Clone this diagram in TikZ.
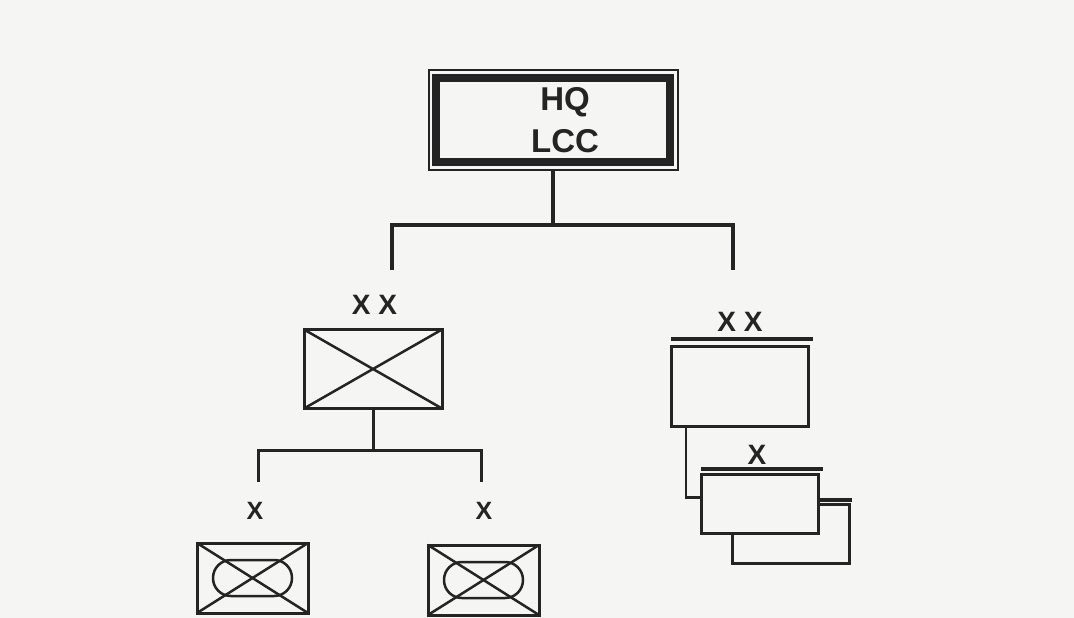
\documentclass[tikz,border=0pt]{standalone}
\usepackage{fontspec}
\setmainfont{Liberation Sans}
\usetikzlibrary{calc}
\definecolor{paper}{RGB}{245,245,243}
\definecolor{ink}{RGB}{36,36,36}

\begin{document}
\begin{tikzpicture}[x=1pt, y=-1pt,
  unit/.style={draw=ink, line width=3pt, fill=paper, inner sep=0pt, outer sep=0pt},
  echelon/.style={ink, font=\fontsize{28}{28}\selectfont\bfseries, inner sep=0pt},
  tree/.style={draw=ink, line width=4pt},
  subtree/.style={draw=ink, line width=3pt},
  navybar/.style={draw=ink, line width=4.5pt}]
\useasboundingbox[fill=paper] (0,0) rectangle (1074,618);

\node[draw=ink, line width=2pt, minimum width=249pt, minimum height=99pt, inner sep=0pt, outer sep=0pt] (hq) at (553,120) {};
\draw[ink, line width=7.5pt] ($(hq.north west)+(7.5,7.5)$) rectangle ($(hq.south east)+(-7.5,-7.5)$);
\node[ink, font=\fontsize{33}{42.5}\selectfont\bfseries, align=center, inner sep=0pt] (hqText) at (565,120) {HQ\\LCC};

\coordinate (dropL) at (392,270);
\coordinate (dropR) at (733,270);
\draw[tree] (hq.south) -- ++(0,55) coordinate (bus) -| (dropL) (bus) -| (dropR);

\node[unit, minimum width=138pt, minimum height=79pt] (div) at (373,369) {};
\draw[ink, line width=2.5pt] (div.north west) -- (div.south east) (div.north east) -- (div.south west);
\node[echelon] (divLbl) at (374.5,305) {X X};

\coordinate (dropBL) at (258,482);
\coordinate (dropBR) at (481,482);
\draw[subtree] (div.south) -- ++(0,41.5) coordinate (bus2) -| (dropBL) (bus2) -| (dropBR);

\foreach \n/\x/\y/\lx in {bdeL/252.5/578/255, bdeR/483.5/580/484} {
  \node[unit, minimum width=111pt, minimum height=70pt] (\n) at (\x,\y) {};
  \draw[ink, line width=2.5pt] (\n.north west) -- (\n.south east) (\n.north east) -- (\n.south west);
  \draw[ink, line width=2.5pt, rounded corners=17.9pt] ($(\n)+(-39.5,-18)$) rectangle ($(\n)+(39.5,18)$);
  \node[echelon, font=\fontsize{25}{25}\selectfont\bfseries] (\n Lbl) at (\lx,511) {X};
}

\node[unit, minimum width=117pt, minimum height=58.5pt] (flotB) at (791,534) {};
\draw[navybar] ($(flotB.north west)+(0,-5)$) -- ($(flotB.north east)+(2,-5)$);
\node[unit, minimum width=117pt, minimum height=59pt] (flotA) at (759.5,503.5) {};
\draw[navybar] ($(flotA.north west)+(0,-5)$) -- ($(flotA.north east)+(5,-5)$);
\node[echelon] (flotLbl) at (757,455) {X};

\node[unit, minimum width=137pt, minimum height=80pt] (fleet) at (739.5,386) {};
\draw[navybar] ($(fleet.north west)+(0,-7)$) -- ($(fleet.north east)+(5,-7)$);
\node[echelon] (fleetLbl) at (740,322) {X X};
\draw[ink, line width=2.2pt] ($(fleet.south west)+(15,0)$) |- ($(flotA.west)+(0,-6)$);
\end{tikzpicture}
\end{document}
